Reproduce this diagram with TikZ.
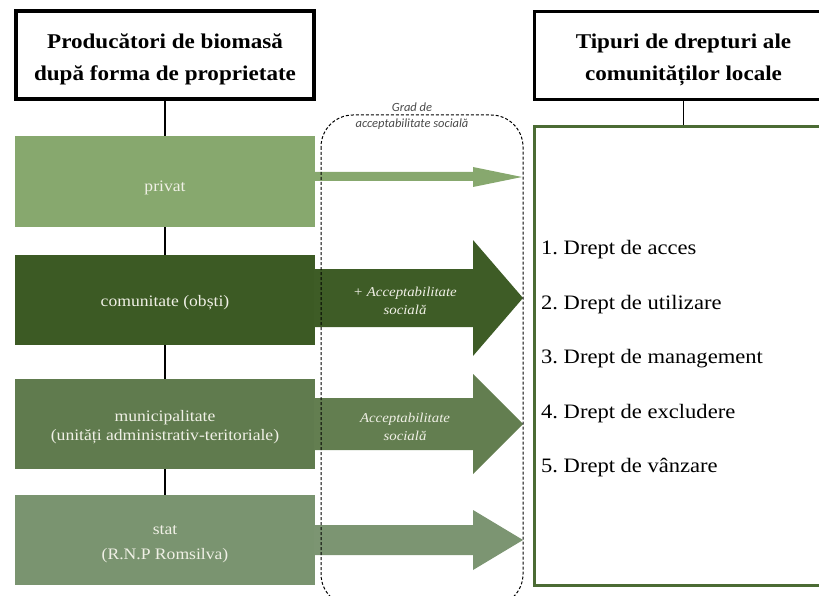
\documentclass[tikz,border=0pt]{standalone}
\usepackage{fontspec}
\setmainfont{Liberation Serif}[FakeStretch=1.1]
\newfontfamily\gradfont{Carlito}
\definecolor{cpriv}{HTML}{87A86E}
\definecolor{ccom}{HTML}{3C5A24}
\definecolor{cmun}{HTML}{607B4E}
\definecolor{cstat}{HTML}{7A9470}
\definecolor{apriv}{HTML}{87A86E}
\definecolor{acom}{HTML}{3E5C26}
\definecolor{amun}{HTML}{637E50}
\definecolor{astat}{HTML}{7C9572}
\definecolor{boxtext}{HTML}{F0F0E6}
\definecolor{cpanel}{HTML}{4B6B34}
\definecolor{gradgray}{HTML}{4A4A4A}
\frenchspacing
\begin{document}
\begin{tikzpicture}[x=1pt,y=-1pt,
  titlebox/.style={draw=black, line width=3.5pt, fill=white, minimum width=298pt,
    minimum height=88pt, inner sep=0pt},
  titletext/.style={align=center, inner sep=0pt,
    font=\fontsize{21}{32}\selectfont\bfseries},
  owner/.style={minimum width=300pt, minimum height=90pt, inner sep=0pt},
  owntext/.style={align=center, inner sep=0pt, text=boxtext,
    font=\fontsize{16}{18.4}\selectfont},
  conn/.style={line width=1.8pt, draw=black},
  arrowtext/.style={text=boxtext, align=center, inner sep=0pt,
    font=\fontsize{13.5}{18}\selectfont\itshape},
  listitem/.style={anchor=west, inner sep=0pt, font=\fontsize{20.5}{24}\selectfont},
  gradlabel/.style={text=gradgray, align=center, inner sep=0pt,
    font=\gradfont\fontsize{12.5}{16.5}\selectfont\itshape},
  gradbox/.style={draw=black, line width=1pt, dash pattern=on 3pt off 2pt,
    rounded corners=32pt},
]
\useasboundingbox (0,0) rectangle (819,596);
\clip (0,0) rectangle (819,596);

% right panel
\node[draw=cpanel, line width=3pt, minimum width=298pt, minimum height=459pt,
  inner sep=0pt] (rights) at (683.5,356) {};

% titles
\node[titlebox] (t1) at (165,55) {};
\node[titletext] (t1text) at (165,59) {Producători de biomasă\\după forma de proprietate};
\node[titlebox] (t2) at (683.5,55.5) {};
\node[titletext] (t2text) at (683.5,59.5) {Tipuri de drepturi ale\\comunităților locale};

% owner boxes
\node[owner, fill=cpriv, minimum height=91pt] (privat) at (165,181.5) {};
\node[owner, fill=ccom] (comun) at (165,300) {};
\node[owner, fill=cmun] (munic) at (165,424) {};
\node[owner, fill=cstat] (stat) at (165,540) {};

\node[owntext] (privattext) at (165,188) {privat};
\node[owntext] (comuntext) at (165,303) {comunitate (obști)};
\node[owntext] (munictext) at (165,427) {municipalitate\\(unități administrativ-teritoriale)};
\node[owntext] (stattext) at (165,544) {stat\\[7pt](R.N.P Romsilva)};

% connectors
\draw[conn] (t1.south) -- (privat.north);
\draw[conn] (privat.south) -- (comun.north);
\draw[conn] (comun.south) -- (munic.north);
\draw[conn] (munic.south) -- (stat.north);
\draw[conn] (t2.south) -- (rights.north);

% block arrows
\fill[apriv] (314,172) -- (473,172) -- (473,167) -- (522,177) -- (473,187) -- (473,181) -- (314,181) -- cycle;
\fill[acom] (314,269) -- (473,269) -- (473,240) -- (523,298) -- (473,356) -- (473,327) -- (314,327) -- cycle;
\fill[amun] (314,398) -- (473,398) -- (473,374) -- (523,424) -- (473,474) -- (473,450) -- (314,450) -- cycle;
\fill[astat] (314,525) -- (473,525) -- (473,510) -- (523,540) -- (473,570) -- (473,555) -- (314,555) -- cycle;

\node[arrowtext] (acc1) at (405,301) {+ Acceptabilitate\\socială};
\node[arrowtext] (acc2) at (405,427) {Acceptabilitate\\socială};

% dashed grade box
\draw[gradbox] (321,115) rectangle (523,606);
\node[gradlabel] (grad) at (412,116) {Grad de\\acceptabilitate socială};

% rights list
\node[listitem] (r1) at (541,250) {1. Drept de acces};
\node[listitem] (r2) at (541,305) {2. Drept de utilizare};
\node[listitem] (r3) at (541,359) {3. Drept de management};
\node[listitem] (r4) at (541,414) {4. Drept de excludere};
\node[listitem] (r5) at (541,468) {5. Drept de vânzare};
\end{tikzpicture}
\end{document}
